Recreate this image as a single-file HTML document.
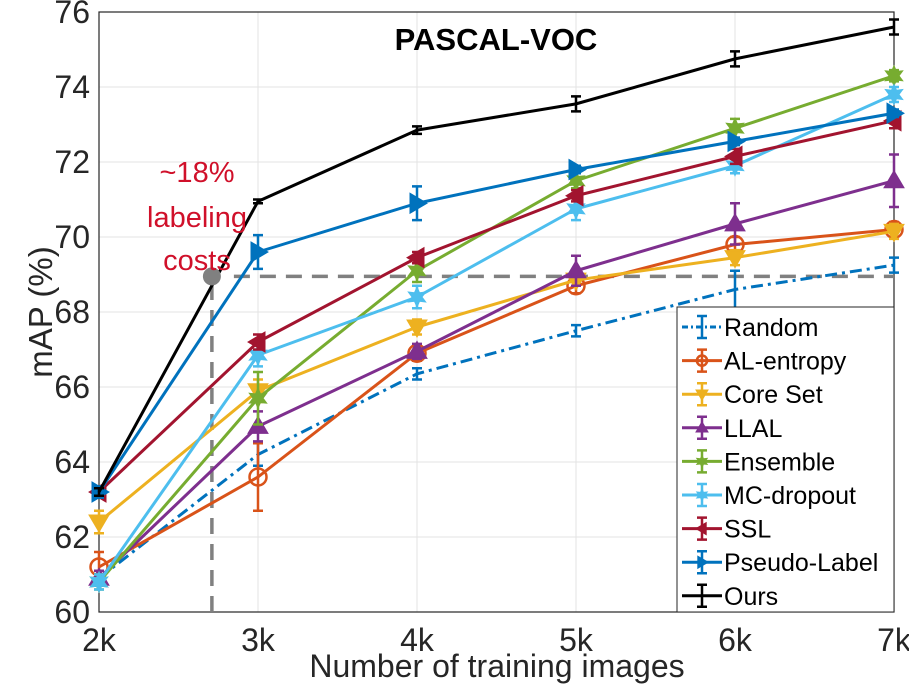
<!DOCTYPE html>
<html><head><meta charset="utf-8"><style>
body{margin:0;background:#fff;}
svg{display:block;font-family:"Liberation Sans",sans-serif;}
</style></head><body>
<svg id="chart" width="909" height="693" viewBox="0 0 909 693"></svg>
<script>
const categories=[2,3,4,5,6,7];
const xTickLabels=["2k","3k","4k","5k","6k","7k"];
const yTicks=[60,62,64,66,68,70,72,74,76];
const seriesNames=["Random","AL-entropy","Core Set","LLAL","Ensemble","MC-dropout","SSL","Pseudo-Label","Ours"];
const randomVals=[60.9,64.2,66.35,67.5,68.6,69.25];
const entropyVals=[61.2,63.6,66.9,68.7,69.8,70.2];
const coreSetVals=[62.4,65.9,67.6,68.85,69.45,70.15];
const llalVals=[60.9,64.95,66.95,69.1,70.35,71.5];
const ensembleVals=[60.8,65.7,69.1,71.5,72.9,74.3];
const mcVals=[60.8,66.85,68.4,70.75,71.9,73.8];
const sslVals=[63.2,67.2,69.45,71.1,72.15,73.1];
const pseudoVals=[63.2,69.6,70.9,71.8,72.55,73.3];
const oursVals=[63.2,70.95,72.85,73.55,74.75,75.6];
const randomErr=[0.2,0.3,0.15,0.15,0.5,0.2];
const entropyErr=[0.4,0.9,0.2,0.2,0.2,0.2];
const coreSetErr=[0.3,0.3,0.2,0.15,0.2,0.2];
const llalErr=[0.2,0.4,0.2,0.4,0.55,0.7];
const ensembleErr=[0.2,0.7,0.3,0.2,0.25,0.15];
const mcErr=[0.2,0.3,0.3,0.3,0.2,0.2];
const sslErr=[0.1,0.2,0.15,0.15,0.2,0.2];
const pseudoErr=[0.15,0.45,0.45,0.1,0.1,0.1];
const oursErr=[0.1,0.05,0.1,0.2,0.2,0.2];

const NS="http://www.w3.org/2000/svg";
const svg=document.getElementById('chart');
const L=99,R=894,T=12,B=612;
const xS=v=>L+(v-2)*(R-L)/5;
const yS=v=>B-(v-60)*(B-T)/16;
function mk(tag,attrs,parent){const e=document.createElementNS(NS,tag);for(const k in attrs)e.setAttribute(k,attrs[k]);(parent||svg).appendChild(e);return e;}

for(const v of yTicks){
  const g=mk('line',{x1:L,x2:R,y1:yS(v),y2:yS(v),stroke:'#e3e3e3','stroke-width':1});
  
  
  const t=mk('text',{x:L-9,y:yS(v)+11,'text-anchor':'end','font-size':32,fill:'#262626'});
  t.textContent=v;
  
  
}
categories.forEach((c,i)=>{
  const g=mk('line',{x1:xS(c),x2:xS(c),y1:T,y2:B,stroke:'#e3e3e3','stroke-width':1});
  
  
  const t=mk('text',{x:xS(c),y:B+39,'text-anchor':'middle','font-size':32,fill:'#262626'});
  t.textContent=xTickLabels[i];
  
  
});
const frame=mk('rect',{x:L,y:T,width:R-L,height:B-T,fill:'none',stroke:'#262626','stroke-width':1.2});



const refX=2.71,refY=68.95;
const dv=mk('line',{x1:xS(refX),x2:xS(refX),y1:B,y2:yS(refY),stroke:'#808080','stroke-width':3.5,'stroke-dasharray':'16,10'});


const dh=mk('line',{x1:xS(refX)+22,x2:R,y1:yS(refY),y2:yS(refY),stroke:'#808080','stroke-width':3.5,'stroke-dasharray':'16,10'});



const colors=['#0072BD','#D95319','#EDB120','#7E2F8E','#77AC30','#4DBEEE','#A2142F','#0072BD','#000000'];
const markers=['none','circle','tridown','triup','star','star','trileft','triright','none'];
const allVals=[randomVals,entropyVals,coreSetVals,llalVals,ensembleVals,mcVals,sslVals,pseudoVals,oursVals];
const allErr=[randomErr,entropyErr,coreSetErr,llalErr,ensembleErr,mcErr,sslErr,pseudoErr,oursErr];

function marker(type,x,y,c,g,s){
  s=s||10;
  let e=null;
  if(type==='circle')e=mk('circle',{cx:x,cy:y,r:s*0.85,fill:'none',stroke:c,'stroke-width':2.5},g);
  else if(type==='triup')e=mk('polygon',{points:`${x},${y-s} ${x-s},${y+s*0.7} ${x+s},${y+s*0.7}`,fill:c,stroke:c},g);
  else if(type==='tridown')e=mk('polygon',{points:`${x},${y+s} ${x-s},${y-s*0.7} ${x+s},${y-s*0.7}`,fill:c,stroke:c},g);
  else if(type==='trileft')e=mk('polygon',{points:`${x-s},${y} ${x+s*0.7},${y-s} ${x+s*0.7},${y+s}`,fill:c,stroke:c},g);
  else if(type==='triright')e=mk('polygon',{points:`${x+s},${y} ${x-s*0.7},${y-s} ${x-s*0.7},${y+s}`,fill:c,stroke:c},g);
  else if(type==='star'){let p=[];for(let k=0;k<12;k++){const a=k*Math.PI/6-Math.PI/2;const r=k%2?s*0.5:s;p.push((x+r*Math.cos(a)).toFixed(1)+','+(y+r*Math.sin(a)).toFixed(1));}e=mk('polygon',{points:p.join(' '),fill:c,stroke:c},g);}
  return e;
}

allVals.forEach((vals,si)=>{
  const g=mk('g',{});
  
  
  const c=colors[si];
  const pts=vals.map((v,i)=>xS(categories[i])+','+yS(v)).join(' ');
  const pl=mk('polyline',{points:pts,fill:'none',stroke:c,'stroke-width':3,'stroke-linejoin':'round'},g);
  if(si===0)pl.setAttribute('stroke-dasharray','12,5,3,5');
  
  
  vals.forEach((v,i)=>{
    const x=xS(categories[i]),e=allErr[si][i];
    const eb=mk('path',{d:`M${x},${yS(v-e)}V${yS(v+e)}M${x-5},${yS(v-e)}h10M${x-5},${yS(v+e)}h10`,stroke:c,'stroke-width':2.5,fill:'none'},g);
    
    
    const m=marker(markers[si],x,yS(v),c,g);
    if(m){
    }
  });
});

const dot=mk('circle',{cx:xS(refX),cy:yS(refY),r:9,fill:'#808080'});



const lg=mk('g',{});


const lb=mk('rect',{x:677,y:307,width:R-677,height:B-307,fill:'#fff',stroke:'#262626','stroke-width':1},lg);


seriesNames.forEach((n,i)=>{
  const y=327+i*33.6,c=colors[i];
  const eg=mk('g',{},lg);
  
  
  const ln=mk('line',{x1:682,x2:722,y1:y,y2:y,stroke:c,'stroke-width':3},eg);
  if(i===0)ln.setAttribute('stroke-dasharray','6,3,2,3');
  mk('path',{d:`M702,${y-11}V${y+11}M697,${y-11}h10M697,${y+11}h10`,stroke:c,'stroke-width':2.5,fill:'none'},eg);
  marker(markers[i],702,y,c,eg,6);
  const t=mk('text',{x:724,y:y+9,'font-size':25,fill:'#000'},eg);
  t.textContent=n;
});

function txt(x,y,s,attrs,name){const t=mk('text',Object.assign({x:x,y:y},attrs));t.textContent=s;return t;}
txt(496,50,'PASCAL-VOC',{'text-anchor':'middle','font-size':31,'font-weight':'bold',fill:'#000'},'chart-title');
txt(197,182,'~18%',{'text-anchor':'middle','font-size':29,fill:'#d0102a'},'annotation-line-1');
txt(197,227,'labeling',{'text-anchor':'middle','font-size':29,fill:'#d0102a'},'annotation-line-2');
txt(197,270,'costs',{'text-anchor':'middle','font-size':29,fill:'#d0102a'},'annotation-line-3');
txt(497,677,'Number of training images',{'text-anchor':'middle','font-size':32,fill:'#262626'},'x-axis-title');
txt(0,0,'mAP (%)',{'text-anchor':'middle','font-size':33,fill:'#262626',transform:'translate(52,312) rotate(-90)'},'y-axis-title');
</script>
</body></html>
